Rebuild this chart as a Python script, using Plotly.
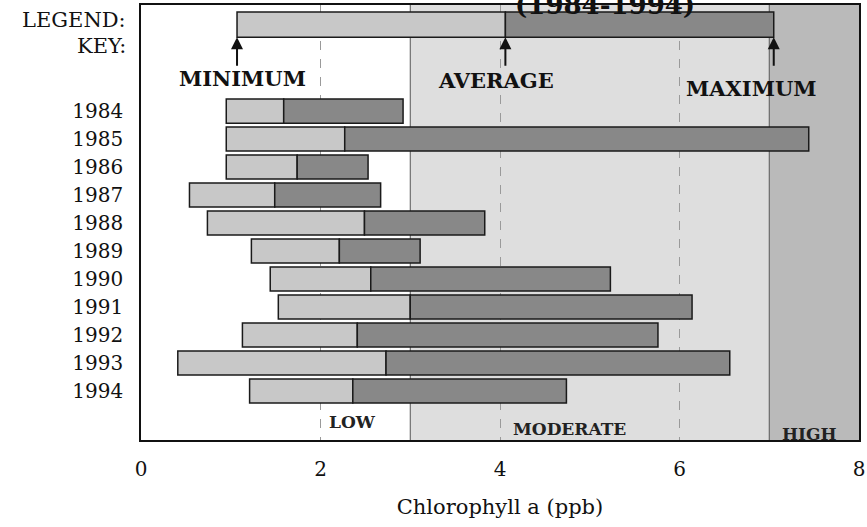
import plotly.graph_objects as go

# ---- data ----
years = ["1984", "1985", "1986", "1987", "1988", "1989", "1990", "1991", "1992", "1993", "1994"]
minimum = [0.95, 0.95, 0.95, 0.54, 0.74, 1.23, 1.44, 1.53, 1.13, 0.41, 1.21]
average = [1.59, 2.27, 1.74, 1.49, 2.49, 2.21, 2.56, 3.00, 2.41, 2.73, 2.36]
maximum = [2.92, 7.44, 2.53, 2.67, 3.83, 3.11, 5.23, 6.14, 5.76, 6.56, 4.74]

key_min, key_avg, key_max = 1.07, 4.06, 7.05
key_labels = ["MINIMUM", "AVERAGE", "MAXIMUM"]

zone_edges = [0, 3, 7, 8]
zone_names = ["LOW", "MODERATE", "HIGH"]
zone_colors = ["#ffffff", "#dedede", "#bababa"]

x_ticks = [0, 2, 4, 6, 8]

# ---- styling ----
FONT = "DejaVu Serif"
LIGHT = "#c8c8c8"
DARK = "#888888"
EDGE = "#1a1a1a"

rows = list(range(len(years)))
key_row = -3.09
bar_w = 0.86

fig = go.Figure()

fig.add_trace(go.Bar(
    y=rows, x=[a - m for a, m in zip(average, minimum)], base=minimum,
    orientation="h", width=bar_w,
    marker=dict(color=LIGHT, line=dict(color=EDGE, width=1.5)),
    showlegend=False, hoverinfo="skip"))
fig.add_trace(go.Bar(
    y=rows, x=[mx - a for mx, a in zip(maximum, average)], base=average,
    orientation="h", width=bar_w,
    marker=dict(color=DARK, line=dict(color=EDGE, width=1.5)),
    showlegend=False, hoverinfo="skip"))
fig.add_trace(go.Bar(
    y=[key_row], x=[key_avg - key_min], base=[key_min],
    orientation="h", width=0.9,
    marker=dict(color=LIGHT, line=dict(color=EDGE, width=1.5)),
    showlegend=False, hoverinfo="skip"))
fig.add_trace(go.Bar(
    y=[key_row], x=[key_max - key_avg], base=[key_avg],
    orientation="h", width=0.9,
    marker=dict(color=DARK, line=dict(color=EDGE, width=1.5)),
    showlegend=False, hoverinfo="skip"))

fig.update_layout(barmode="overlay")

for i in range(len(zone_names)):
    fig.add_shape(type="rect", xref="x", yref="paper",
                  x0=zone_edges[i], x1=zone_edges[i + 1], y0=0, y1=1,
                  fillcolor=zone_colors[i], line=dict(width=0), layer="below")
for edge in zone_edges[1:3]:
    fig.add_shape(type="line", xref="x", yref="paper", x0=edge, x1=edge,
                  y0=0, y1=1, line=dict(color="#555", width=1), layer="below")

zone_label_pos = [(2.36, 11.1), (4.77, 11.35), (7.45, 11.55)]
for name, (zx, zy) in zip(zone_names, zone_label_pos):
    fig.add_annotation(x=zx, y=zy, text=f"<b>{name}</b>", showarrow=False,
                       font=dict(family=FONT, size=17, color="#222"))

bar_bottom = key_row + 0.45
for kx in [key_min, key_avg, key_max]:
    fig.add_annotation(x=kx, y=bar_bottom, text="", showarrow=True,
                       ax=0, ay=30, arrowhead=2, arrowsize=1.2, arrowwidth=2,
                       arrowcolor="#111")
key_label_pos = [(1.13, -1.18), (3.95, -1.1), (6.8, -0.8)]
for lab, (lx, ly) in zip(key_labels, key_label_pos):
    fig.add_annotation(x=lx, y=ly, text=f"<b>{lab}</b>", showarrow=False,
                       font=dict(family=FONT, size=21, color="#111"))

fig.add_annotation(xref="paper", x=-0.018, y=-3.25, text="LEGEND:", showarrow=False,
                   xanchor="right", font=dict(family=FONT, size=21, color="#111"))
fig.add_annotation(xref="paper", x=-0.018, y=-2.32, text="KEY:", showarrow=False,
                   xanchor="right", font=dict(family=FONT, size=21, color="#111"))

# title, cut off by the top edge as in the scan
fig.add_annotation(xref="paper", yref="paper", x=0.775, y=0.962, yanchor="bottom",
                   text="<b>(1984-1994)</b>", showarrow=False,
                   font=dict(family=FONT, size=26, color="#111"))

fig.update_xaxes(range=[0, 8], tickvals=x_ticks, ticktext=[str(t) for t in x_ticks],
                 showgrid=True, griddash="dash", gridcolor="#9a9a9a", gridwidth=1,
                 showline=True, mirror=True, linecolor="#111", linewidth=1.5,
                 zeroline=False, ticks="", ticklabelstandoff=10,
                 ticklabeloverflow="allow",
                 tickfont=dict(family=FONT, size=20, color="#111"),
                 title=dict(text="Chlorophyll a (ppb)", standoff=20,
                            font=dict(family=FONT, size=21, color="#111")))
fig.update_yaxes(range=[11.75, -3.79], tickvals=rows, ticktext=years,
                 showgrid=False, zeroline=False,
                 showline=True, mirror=True, linecolor="#111", linewidth=1.5,
                 ticks="", ticklabelstandoff=12,
                 tickfont=dict(family=FONT, size=20, color="#111"))

fig.update_layout(width=867, height=527,
                  margin=dict(l=141, r=2, t=5, b=87),
                  plot_bgcolor="white", paper_bgcolor="white")

fig.write_html("out.html", config={"displayModeBar": False},
               post_script="document.body.style.margin='0px';"
                           "document.body.style.overflow='hidden';"
                           "document.documentElement.style.overflow='hidden';")
